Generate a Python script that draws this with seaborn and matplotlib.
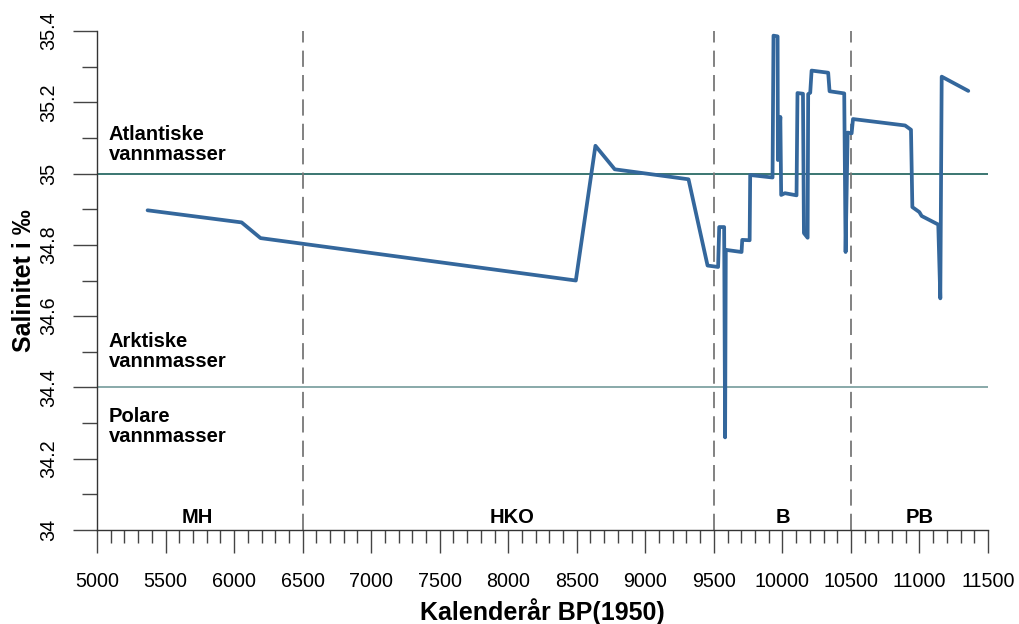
import numpy as np
import pandas as pd
import matplotlib
matplotlib.use("Agg")
import matplotlib.pyplot as plt
from matplotlib.ticker import MultipleLocator, FixedLocator
import seaborn as sns

# Salinity reconstruction (calendar years BP and salinity in per mille)
years = [5369, 6055, 6193, 8493, 8636, 8777, 9315, 9454, 9531, 9539, 9575, 9582,
         9587, 9702, 9707, 9761, 9765, 9928, 9935, 9965, 9967, 9985, 9991, 10018,
         10103, 10110, 10150, 10157, 10184, 10188, 10203, 10213, 10334, 10344,
         10451, 10461, 10476, 10505, 10515, 10895, 10938, 10948, 10999, 11016,
         11137, 11152, 11162, 11356]
salinity = [34.897, 34.863, 34.819, 34.700, 35.078, 35.012, 34.984, 34.742, 34.738,
            34.850, 34.850, 34.260, 34.786, 34.780, 34.814, 34.813, 34.996, 34.989,
            35.387, 35.385, 35.038, 35.159, 34.940, 34.945, 34.939, 35.226, 35.224,
            34.833, 34.820, 35.223, 35.227, 35.289, 35.283, 35.231, 35.225, 34.780,
            35.115, 35.113, 35.153, 35.135, 35.123, 34.906, 34.892, 34.881, 34.857,
            34.650, 35.272, 35.232]

# Period boundaries and labels
boundaries = [6500, 9500, 10500]
period_names = ["MH", "HKO", "B", "PB"]
period_centers = [5730, 8030, 10000, 11000]

# Water mass thresholds and labels
water_lines = [35.0, 34.4]
water_labels = ["Atlantiske\nvannmasser", "Arktiske\nvannmasser", "Polare\nvannmasser"]
water_label_y = [35.082, 34.5, 34.29]

x_ticks = [5000, 5500, 6000, 6500, 7000, 7500, 8000, 8500, 9000, 9500, 10000,
           10500, 11000, 11500]
y_ticks = [34.0, 34.2, 34.4, 34.6, 34.8, 35.0, 35.2, 35.4]
y_tick_labels = ["34", "34.2", "34.4", "34.6", "34.8", "35", "35.2", "35.4"]

sns.set_style("white")
plt.rcParams["font.family"] = ["Liberation Sans", "DejaVu Sans"]
plt.rcParams["text.color"] = "black"
plt.rcParams["axes.labelcolor"] = "black"
plt.rcParams["xtick.labelcolor"] = "black"
plt.rcParams["ytick.labelcolor"] = "black"

df = pd.DataFrame({"year": years, "salinity": salinity})

fig = plt.figure(figsize=(10.19, 6.24), dpi=100)
ax = fig.add_axes([0.0952, 0.1506, 0.8744, 0.7997])

# threshold lines
ax.axhline(water_lines[0], color="#2b6b66", lw=1.3, zorder=1)
ax.axhline(water_lines[1], color="#7fa3a3", lw=1.3, zorder=1)

# period boundaries
for b in boundaries:
    ax.axvline(b, color="#777777", lw=1.3, dashes=(9, 4.5), zorder=1)

sns.lineplot(data=df, x="year", y="salinity", sort=False, estimator=None,
             color="#34679c", lw=2.7, ax=ax, zorder=3)

ax.set_xlim(5000, 11500)
ax.set_ylim(34.0, 35.4)

ax.xaxis.set_major_locator(FixedLocator(x_ticks))
ax.xaxis.set_minor_locator(MultipleLocator(100))
ax.set_xticklabels([str(t) for t in x_ticks])
ax.yaxis.set_major_locator(FixedLocator(y_ticks))
ax.yaxis.set_minor_locator(MultipleLocator(0.1))
ax.set_yticklabels(y_tick_labels, rotation=90, va="center")

for s in ["top", "right"]:
    ax.spines[s].set_visible(False)
for s in ["left", "bottom"]:
    ax.spines[s].set_color("#333333")
    ax.spines[s].set_linewidth(1.0)

ax.tick_params(axis="x", which="major", direction="out", length=16.5, width=1.0,
               color="#444444", labelsize=14.2, pad=14, bottom=True)
ax.tick_params(axis="x", which="minor", direction="out", length=9.5, width=1.0,
               color="#444444", bottom=True)
ax.tick_params(axis="y", which="major", direction="out", length=17, width=1.0,
               color="#444444", labelsize=14.2, pad=11, left=True)
ax.tick_params(axis="y", which="minor", direction="out", length=11, width=1.0,
               color="#444444", left=True)

ax.set_xlabel("Kalenderår BP(1950)", fontsize=18, fontweight="bold", labelpad=5)
ax.set_ylabel("Salinitet i ‰", fontsize=18, fontweight="bold", labelpad=2)

for label, yv in zip(water_labels, water_label_y):
    ax.text(5085, yv, label, fontsize=14.5, fontweight="bold", ha="left",
            va="center", linespacing=1.08)

for name, xc in zip(period_names, period_centers):
    ax.text(xc, 34.035, name, fontsize=14.5, fontweight="bold", ha="center",
            va="center")

fig.savefig("out.png", dpi=100)
